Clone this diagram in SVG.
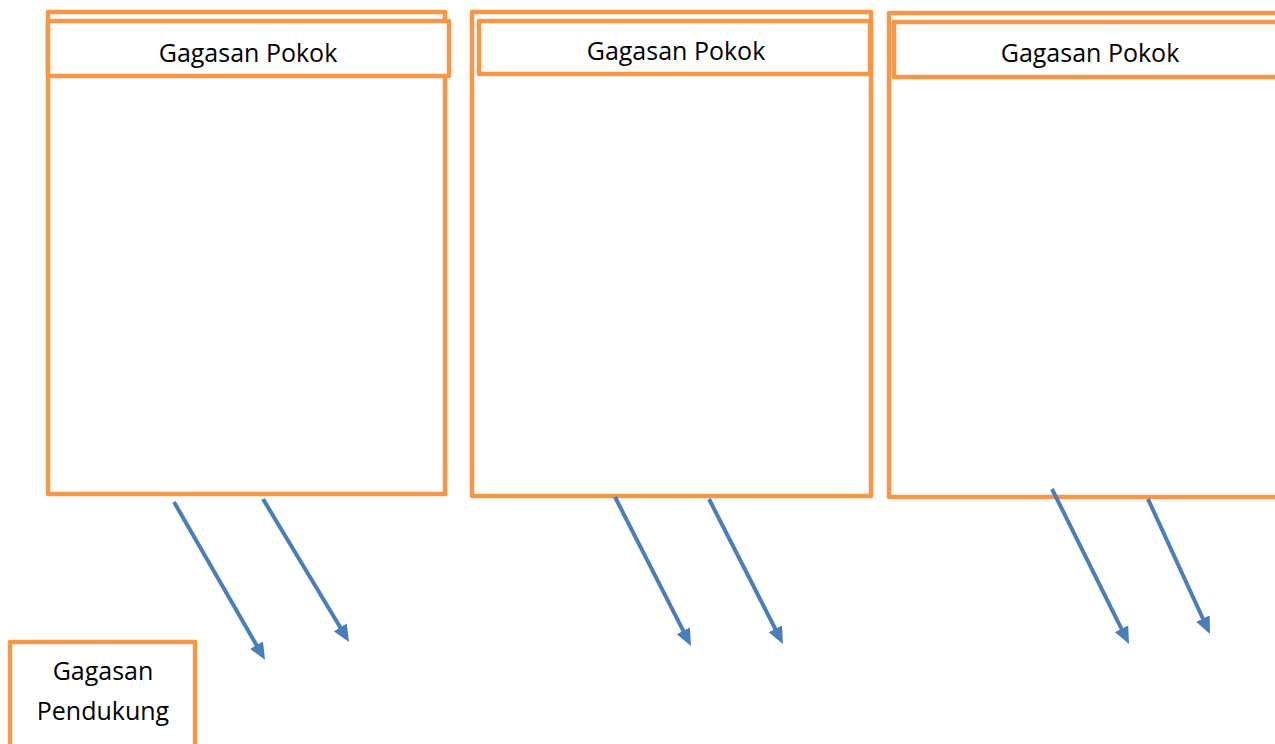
<svg xmlns="http://www.w3.org/2000/svg" width="1275" height="744" viewBox="0 0 1275 744">
  <style>
    .box { fill: #ffffff; stroke: #F79646; stroke-width: 4.5; stroke-linejoin: round; }
    .lbl { font-family: "Open Sans", "Liberation Sans", sans-serif; font-size: 25px; fill: #000000; text-anchor: middle; }
    .arr { stroke: #4A7EBB; stroke-width: 4; fill: none; marker-end: url(#ah); }
  </style>
  <defs>
    <marker id="ah" markerUnits="userSpaceOnUse" markerWidth="17" markerHeight="15" viewBox="0 0 17 15" refX="1" refY="7.5" orient="auto">
      <path d="M0,0 L17,7.5 L0,15 z" fill="#4A7EBB"/>
    </marker>
  </defs>
  <rect width="1275" height="744" fill="#ffffff"/>

  <g id="pokok1">
    <rect class="box" x="48" y="12" width="397" height="482"/>
    <rect class="box" x="48" y="21" width="401" height="55"/>
    <text class="lbl" x="248" y="62">Gagasan Pokok</text>
  </g>

  <g id="pokok2">
    <rect class="box" x="472" y="12" width="399" height="484"/>
    <rect class="box" x="479" y="21" width="391" height="53"/>
    <text class="lbl" x="676" y="60">Gagasan Pokok</text>
  </g>

  <g id="pokok3">
    <rect class="box" x="889" y="13" width="400" height="484"/>
    <rect class="box" x="894" y="22" width="400" height="55"/>
    <text class="lbl" x="1090" y="62">Gagasan Pokok</text>
  </g>

  <g id="pendukung">
    <rect class="box" x="10" y="642" width="185" height="130"/>
    <text class="lbl" x="103" y="680">Gagasan</text>
    <text class="lbl" x="103" y="720">Pendukung</text>
  </g>

  <g id="connectors">
    <line class="arr" x1="174" y1="502" x2="257" y2="646"/>
    <line class="arr" x1="263" y1="499" x2="340.8" y2="628.3"/>
    <line class="arr" x1="615" y1="497" x2="683.7" y2="631.7"/>
    <line class="arr" x1="709" y1="499" x2="775.7" y2="629.7"/>
    <line class="arr" x1="1052" y1="489" x2="1121.9" y2="629.7"/>
    <line class="arr" x1="1148" y1="499" x2="1203.3" y2="619.5"/>
  </g>
</svg>
